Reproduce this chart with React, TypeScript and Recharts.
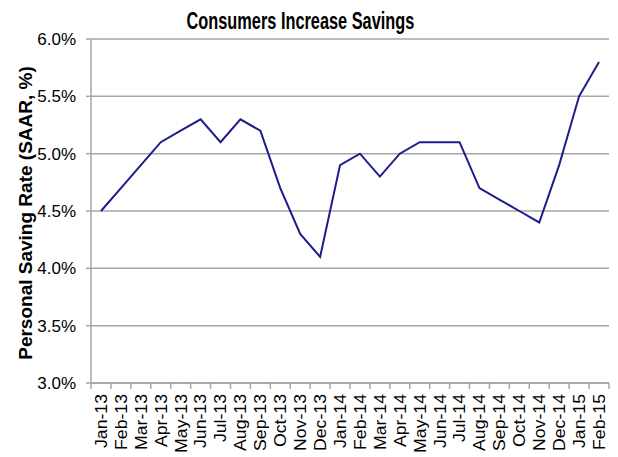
import { LineChart, Line, XAxis, YAxis, CartesianGrid } from "recharts";

const months = [
  "Jan-13", "Feb-13", "Mar-13", "Apr-13", "May-13", "Jun-13", "Jul-13", "Aug-13", "Sep-13",
  "Oct-13", "Nov-13", "Dec-13", "Jan-14", "Feb-14", "Mar-14", "Apr-14", "May-14", "Jun-14",
  "Jul-14", "Aug-14", "Sep-14", "Oct-14", "Nov-14", "Dec-14", "Jan-15", "Feb-15",
];

const savingRate = [
  4.5, 4.7, 4.9, 5.1, 5.2, 5.3, 5.1, 5.3, 5.2, 4.7, 4.3, 4.1, 4.9, 5.0, 4.8, 5.0, 5.1, 5.1,
  5.1, 4.7, 4.6, 4.5, 4.4, 4.9, 5.5, 5.8,
];

const yTicks = [3.0, 3.5, 4.0, 4.5, 5.0, 5.5, 6.0];

const data = months.map((m, i) => ({ month: m, rate: savingRate[i] }));

const GRID = "#a6a6a6";
const FONT = "'Liberation Sans', Arial, sans-serif";

function MonthTick(props: any) {
  const { x, y, payload, index, width, visibleTicksCount } = props;
  const n = visibleTicksCount || months.length;
  const step = width ? width / n : 19.92;
  const left = x - step / 2;
  const ty = y + 11;
  return (
    <g>
      <line x1={left} y1={y} x2={left} y2={y + 6} stroke={GRID} strokeWidth={1.5} />
      {index === n - 1 && (
        <line x1={x + step / 2} y1={y} x2={x + step / 2} y2={y + 6} stroke={GRID} strokeWidth={1.5} />
      )}
      {/* labels in the original are a bit stretched along their length */}
      <text
        x={0}
        y={0}
        transform={`translate(${x}, ${ty}) rotate(-90) scale(1.04, 1)`}
        textAnchor="end"
        dominantBaseline="central"
        fontSize={17}
        fontFamily={FONT}
        fill="#000"
      >
        {payload.value}
      </text>
    </g>
  );
}

export default function App() {
  return (
    <div style={{ position: "absolute", left: 0, top: 0, width: 618, height: 457, background: "#fff" }}>
      <div
        style={{
          position: "absolute",
          left: 0,
          top: 10,
          width: 600,
          textAlign: "center",
          fontFamily: FONT,
          fontWeight: "bold",
          fontSize: 23,
          lineHeight: "23px",
          color: "#000",
          zIndex: 1,
        }}
      >
        <span style={{ display: "inline-block", transform: "scaleX(0.71)", whiteSpace: "nowrap" }}>
          Consumers Increase Savings
        </span>
      </div>
      <LineChart width={618} height={457} data={data} margin={{ top: 39, right: 9, bottom: 0, left: 0 }}>
        <CartesianGrid vertical={false} stroke={GRID} strokeWidth={1.5} />
        <XAxis
          dataKey="month"
          interval={0}
          height={74}
          padding={{ left: 10, right: 10 }}
          tickSize={0}
          tickMargin={0}
          tickLine={false}
          axisLine={{ stroke: GRID, strokeWidth: 1.5 }}
          tick={<MonthTick />}
        />
        <YAxis
          domain={[3, 6]}
          ticks={yTicks}
          width={91}
          tickSize={5}
          tickMargin={10}
          tickLine={{ stroke: GRID, strokeWidth: 1.5 }}
          axisLine={{ stroke: GRID, strokeWidth: 1.5 }}
          tickFormatter={(v: number) => `${v.toFixed(1)}%`}
          tick={{ fontSize: 17, fontFamily: FONT, fill: "#000" }}
          label={{
            content: (p: any) => {
              const vb = p.viewBox || {};
              const cy = (vb.y ?? 39) + (vb.height ?? 344) / 2 + 2;
              return (
                <text
                  x={25}
                  y={cy}
                  transform={`rotate(-90, 25, ${cy})`}
                  textAnchor="middle"
                  dominantBaseline="central"
                  fontSize={19}
                  fontWeight="bold"
                  fontFamily={FONT}
                  fill="#000"
                >
                  Personal Saving Rate (SAAR, %)
                </text>
              );
            },
          }}
        />
        <YAxis
          yAxisId="right"
          orientation="right"
          domain={[3, 6]}
          width={0}
          tick={false}
          tickLine={false}
          axisLine={{ stroke: GRID, strokeWidth: 1.5 }}
        />
        <Line
          type="linear"
          dataKey="rate"
          stroke="#1c1c8c"
          strokeWidth={2}
          dot={false}
          isAnimationActive={false}
        />
      </LineChart>
    </div>
  );
}
